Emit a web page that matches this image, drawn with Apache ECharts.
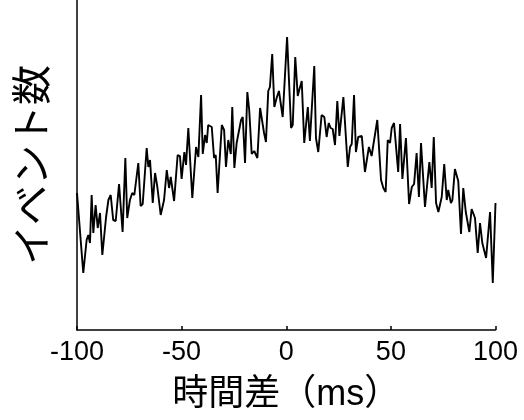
<!DOCTYPE html>
<html>
<head>
<meta charset="utf-8">
<script src="https://cdn.jsdelivr.net/npm/echarts@6/dist/echarts.min.js"></script>
<style>
html,body{margin:0;padding:0;background:#fff;}
#chart{width:524px;height:420px;}
</style>
</head>
<body>
<div id="chart"></div>
<script>
// Time difference (ms) of each vertex of the trace
var timeDiff = [-100,-97.0,-95.4,-94.6,-93.8,-93.0,-92.2,-91.1,-90.1,-89.0,-87.9,-86.1,-85.0,-83.9,-82.7,-81.5,-79.9,-78.2,-76.9,-76.0,
-74.7,-73.6,-72.6,-70.7,-69.6,-68.6,-66.7,-65.9,-65.1,-63.8,-62.7,-61.6,-60.0,-58.4,-57.1,-56.0,-55.2,-53.6,-52.8,-51.9,
-50.8,-50.0,-48.7,-47.9,-46.8,-44.9,-43.1,-42.0,-40.7,-39.9,-38.8,-38.0,-37.3,-35.6,-34.5,-33.7,-32.8,-30.8,-29.7,-28.8,
-27.7,-26.5,-25.8,-24.8,-23.7,-22.9,-21.6,-20.8,-19.7,-18.6,-17.7,-16.5,-15.3,-14.6,-13.8,-12.5,-11.7,-10.6,-9.7,-8.6,
-7.8,-6.7,-5.7,-4.6,-3.5,-2.7,-1.7,-1.1,0.4,2.3,3.1,4.3,5.5,6.2,7.4,8.6,10.3,11.3,13.4,14.2,
15.3,16.9,18.2,19.3,20.3,21.2,22.2,23.3,24.4,25.4,27.3,29.4,30.5,31.3,32.4,33.3,34.4,36.1,37.6,38.4,
39.5,40.8,41.6,43.5,45.3,46.4,47.5,48.5,49.6,50.4,51.5,53.5,54.4,55.5,57.2,58.7,60.0,61.1,61.5,62.3,
63.4,64.4,66.3,68.4,69.5,70.5,71.6,72.7,74.3,75.5,76.7,77.4,78.7,79.4,80.6,82.2,83.5,84.6,85.8,86.5,
87.5,88.6,90.2,91.5,92.6,93.7,95.5,97.4,98.7,100];
// Event counts (relative units)
var eventCount = [137,57,90,95,87,135,97,125,102,117,75,113,130,135,110,109,146,98,172,112,
130,137,135,167,124,126,182,163,170,127,157,143,115,130,160,142,153,129,131,175,
174,151,178,165,202,132,183,173,235,176,195,187,205,203,172,175,137,205,200,163,
190,176,223,162,187,185,210,213,167,238,220,176,179,178,172,222,221,197,188,239,
243,276,223,232,239,237,213,214,293,202,205,273,234,240,249,187,223,189,264,192,
178,215,213,193,207,202,201,185,229,194,233,163,183,186,235,178,193,194,158,158,
183,174,173,210,150,142,138,190,187,202,207,158,206,151,192,126,143,146,145,177,
133,187,123,168,142,193,127,118,133,166,130,140,127,130,161,149,96,142,118,120,
98,121,112,77,107,87,72,118,47,127];
var xTicks = [-100,-50,0,50,100];
var xTitle = '時間差（ms）';
var yTitle = 'イベント数';

var pts = timeDiff.map(function(t,i){return [t, eventCount[i]];});
var chart = echarts.init(document.getElementById('chart'), null, {renderer:'canvas'});
chart.setOption({
  animation:false,
  backgroundColor:'#fff',
  grid:{left:77, right:28.5, top:0, bottom:90},
  xAxis:{
    type:'value', min:xTicks[0], max:xTicks[xTicks.length-1], interval:50,
    axisLine:{show:true, onZero:false, lineStyle:{color:'#000', width:1.5}},
    axisTick:{show:true, inside:true, length:4, lineStyle:{color:'#000', width:1.5}},
    axisLabel:{color:'#000', fontSize:27, fontFamily:'Liberation Sans, Arial, sans-serif', margin:9},
    splitLine:{show:false},
    name:xTitle, nameLocation:'middle', nameGap:47,
    nameTextStyle:{color:'#000', fontSize:36, fontFamily:'Liberation Sans, Noto Sans CJK JP, sans-serif'}
  },
  yAxis:{
    type:'value', min:0, max:330,
    axisLine:{show:true, onZero:false, lineStyle:{color:'#000', width:1.5}},
    axisTick:{show:false}, axisLabel:{show:false}, splitLine:{show:false},
    name:yTitle, nameLocation:'middle', nameGap:26, nameRotate:90,
    nameTextStyle:{color:'#000', fontSize:40, fontFamily:'Noto Sans CJK JP, sans-serif'}
  },
  series:[{
    type:'line', data:pts, showSymbol:false, symbol:'none',
    lineStyle:{color:'#000', width:1.9}, smooth:false
  }]
});
</script>
</body>
</html>
